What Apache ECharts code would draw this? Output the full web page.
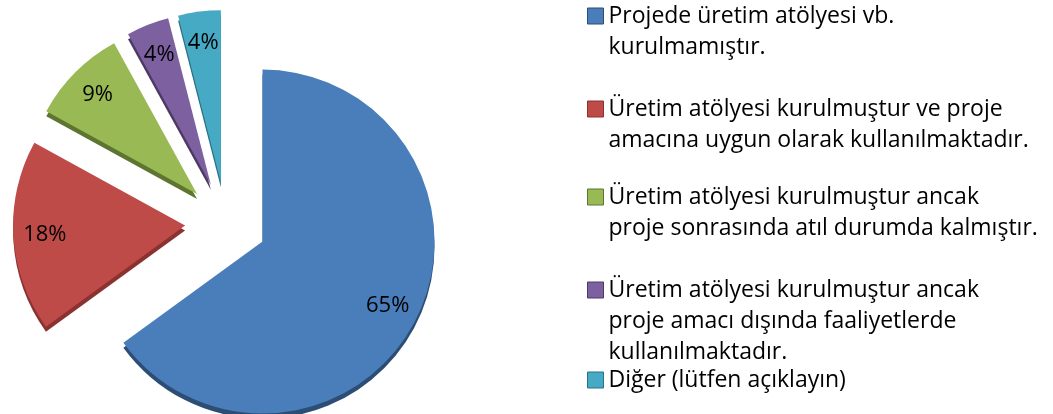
<!DOCTYPE html>
<html>
<head>
<meta charset="utf-8">
<script src="https://cdn.jsdelivr.net/npm/echarts@6/dist/echarts.min.js"></script>
<style>
  html, body { margin: 0; padding: 0; background: #fff; }
  #chart { width: 1053px; height: 414px; }
</style>
</head>
<body>
<div id="chart"></div>
<script>
// data
var categories = [
  "Projede üretim atölyesi vb. kurulmamıştır.",
  "Üretim atölyesi kurulmuştur ve proje amacına uygun olarak kullanılmaktadır.",
  "Üretim atölyesi kurulmuştur ancak proje sonrasında atıl durumda kalmıştır.",
  "Üretim atölyesi kurulmuştur ancak proje amacı dışında faaliyetlerde kullanılmaktadır.",
  "Diğer (lütfen açıklayın)"
];
var values = [65, 18, 9, 4, 4];
var legendLines = [
  ["Projede üretim atölyesi vb.", "kurulmamıştır."],
  ["Üretim atölyesi kurulmuştur ve proje", "amacına uygun olarak kullanılmaktadır."],
  ["Üretim atölyesi kurulmuştur ancak", "proje sonrasında atıl durumda kalmıştır."],
  ["Üretim atölyesi kurulmuştur ancak", "proje amacı dışında faaliyetlerde", "kullanılmaktadır."],
  ["Diğer (lütfen açıklayın)"]
];
var colors = ["#4a7ebb", "#be4b48", "#98b954", "#7d60a0", "#46aac5"];
var edgeColors = ["#2c4d74", "#8a3230", "#5d7530", "#4d3a63", "#2a7086"];
var legendTops = [-30.5, 62.5, 150.5, 212.5, 364.5];

var LINE_H = 31;
var FONT = "'Open Sans', sans-serif";

var chart = echarts.init(document.getElementById("chart"));

var mainData = categories.map(function (name, i) {
  return {
    name: name,
    value: values[i],
    selected: true,
    itemStyle: {
      color: colors[i],
      shadowColor: edgeColors[i],
      shadowOffsetY: 5,
      shadowOffsetX: 0,
      shadowBlur: 0
    }
  };
});

var labelData = categories.map(function (name, i) {
  return { name: name, value: values[i], selected: true };
});

// legend icon sits on the first line: blank lines in front keep that line centred on the icon
var legends = categories.map(function (name, i) {
  var lines = legendLines[i];
  var pad = [];
  for (var k = 1; k < lines.length; k++) pad.push("");
  return {
    orient: "vertical",
    left: 587,
    top: legendTops[i],
    padding: 0,
    itemGap: 0,
    itemWidth: 16,
    itemHeight: 16,
    icon: "rect",
    selectedMode: false,
    data: [{ name: name, itemStyle: { borderColor: edgeColors[i], borderWidth: 1 } }],
    formatter: function () { return pad.concat(lines).join("\n"); },
    textStyle: {
      fontFamily: FONT,
      fontSize: 23,
      lineHeight: LINE_H,
      color: "#000"
    }
  };
});

var options = {
  animation: false,
  color: colors,
  legend: legends,
  series: [
    {
      type: "pie",
      center: [226, 223],
      radius: 172,
      startAngle: 90,
      selectedMode: "multiple",
      selectedOffset: 41,
      silent: true,
      label: { show: false },
      labelLine: { show: false },
      emphasis: { disabled: true },
      data: mainData
    },
    {
      type: "pie",
      center: [226, 223],
      radius: [103, 172],
      startAngle: 90,
      selectedMode: "multiple",
      selectedOffset: 41,
      silent: true,
      itemStyle: { color: "rgba(0,0,0,0)" },
      label: {
        show: true,
        position: "inside",
        color: "#000",
        fontFamily: FONT,
        fontSize: 22,
        formatter: function (p) { return p.value + "%"; }
      },
      labelLine: { show: false },
      emphasis: { disabled: true },
      data: labelData
    }
  ]
};

chart.setOption(options);
</script>
</body>
</html>
